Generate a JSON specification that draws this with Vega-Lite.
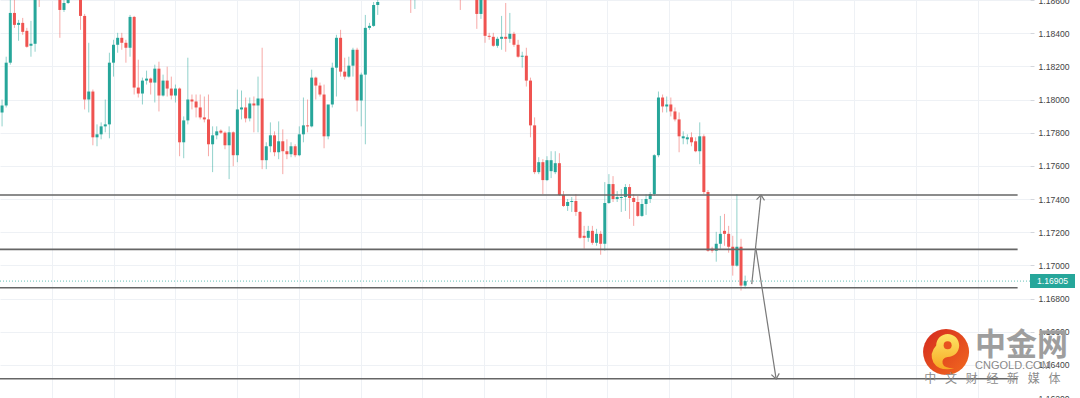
{
"$schema": "https://vega.github.io/schema/vega-lite/v6.json",
"width": 1030, "height": 398,
"autosize": {"type": "none"},
"padding": {"left": 0, "top": 0, "right": 50, "bottom": 0},
"background": "white",
"config": {"view": {"stroke": null}, "font": "Liberation Sans", "axis": {"labelOverlap": false, "labelSeparation": 0}},
"datasets": {
"candles": [
{"i":0,"o":1.17922,"h":1.18,"l":1.17838,"c":1.17964},
{"i":1,"o":1.17964,"h":1.18258,"l":1.17952,"c":1.18222},
{"i":2,"o":1.18222,"h":1.1863,"l":1.1821,"c":1.18522},
{"i":3,"o":1.18522,"h":1.18612,"l":1.18432,"c":1.1845},
{"i":4,"o":1.1845,"h":1.1848,"l":1.18354,"c":1.18462},
{"i":5,"o":1.18462,"h":1.18492,"l":1.1839,"c":1.18408},
{"i":6,"o":1.18414,"h":1.18432,"l":1.18312,"c":1.18318},
{"i":7,"o":1.18324,"h":1.18474,"l":1.18258,"c":1.18336},
{"i":8,"o":1.18336,"h":1.1866,"l":1.18288,"c":1.1863},
{"i":9,"o":1.1866,"h":1.1869,"l":1.18558,"c":1.18612},
{"i":10,"o":1.18612,"h":1.1872,"l":1.1861,"c":1.1868},
{"i":11,"o":1.1868,"h":1.1874,"l":1.1862,"c":1.1864},
{"i":12,"o":1.1864,"h":1.1875,"l":1.1862,"c":1.187},
{"i":13,"o":1.187,"h":1.1873,"l":1.1861,"c":1.1862},
{"i":14,"o":1.18618,"h":1.18636,"l":1.18372,"c":1.1854},
{"i":15,"o":1.1854,"h":1.18612,"l":1.18528,"c":1.18582},
{"i":16,"o":1.18582,"h":1.18648,"l":1.18576,"c":1.18618},
{"i":17,"o":1.18618,"h":1.1869,"l":1.1861,"c":1.1866},
{"i":18,"o":1.1866,"h":1.1868,"l":1.1861,"c":1.1863},
{"i":19,"o":1.1863,"h":1.18648,"l":1.1842,"c":1.18504},
{"i":20,"o":1.18504,"h":1.18516,"l":1.1794,"c":1.18},
{"i":21,"o":1.18,"h":1.18342,"l":1.17922,"c":1.18048},
{"i":22,"o":1.18048,"h":1.1806,"l":1.17724,"c":1.17772},
{"i":23,"o":1.17772,"h":1.1785,"l":1.17718,"c":1.1779},
{"i":24,"o":1.1779,"h":1.17862,"l":1.1776,"c":1.17838},
{"i":25,"o":1.17838,"h":1.18,"l":1.17802,"c":1.1785},
{"i":26,"o":1.1785,"h":1.18282,"l":1.17766,"c":1.18222},
{"i":27,"o":1.18222,"h":1.1836,"l":1.18138,"c":1.1833},
{"i":28,"o":1.1833,"h":1.18402,"l":1.18282,"c":1.18372},
{"i":29,"o":1.18372,"h":1.18402,"l":1.183,"c":1.18342},
{"i":30,"o":1.18342,"h":1.1836,"l":1.18222,"c":1.18312},
{"i":31,"o":1.18312,"h":1.1851,"l":1.18258,"c":1.18498},
{"i":32,"o":1.18498,"h":1.18504,"l":1.1803,"c":1.18072},
{"i":33,"o":1.18072,"h":1.1824,"l":1.18012,"c":1.18036},
{"i":34,"o":1.18036,"h":1.18132,"l":1.1797,"c":1.18114},
{"i":35,"o":1.18114,"h":1.18174,"l":1.1809,"c":1.18126},
{"i":36,"o":1.18126,"h":1.18132,"l":1.1803,"c":1.18102},
{"i":37,"o":1.18102,"h":1.1821,"l":1.17982,"c":1.18186},
{"i":38,"o":1.18186,"h":1.18228,"l":1.17928,"c":1.18024},
{"i":39,"o":1.18024,"h":1.1815,"l":1.18018,"c":1.18114},
{"i":40,"o":1.18114,"h":1.18198,"l":1.18018,"c":1.18066},
{"i":41,"o":1.18066,"h":1.18138,"l":1.18,"c":1.18024},
{"i":42,"o":1.18024,"h":1.1809,"l":1.17982,"c":1.18066},
{"i":43,"o":1.18066,"h":1.18072,"l":1.17658,"c":1.17742},
{"i":44,"o":1.17742,"h":1.17898,"l":1.17646,"c":1.17874},
{"i":45,"o":1.17874,"h":1.18252,"l":1.1785,"c":1.18},
{"i":46,"o":1.18,"h":1.1803,"l":1.1794,"c":1.17988},
{"i":47,"o":1.17988,"h":1.1803,"l":1.17892,"c":1.17952},
{"i":48,"o":1.17952,"h":1.1803,"l":1.1788,"c":1.17892},
{"i":49,"o":1.17892,"h":1.18018,"l":1.17862,"c":1.1788},
{"i":50,"o":1.1788,"h":1.1803,"l":1.17658,"c":1.1773},
{"i":51,"o":1.1773,"h":1.17838,"l":1.17562,"c":1.17784},
{"i":52,"o":1.17784,"h":1.17838,"l":1.1776,"c":1.17808},
{"i":53,"o":1.17812,"h":1.1782,"l":1.17792,"c":1.178},
{"i":54,"o":1.178,"h":1.17808,"l":1.177,"c":1.17724},
{"i":55,"o":1.17724,"h":1.17838,"l":1.1752,"c":1.17802},
{"i":56,"o":1.17802,"h":1.17808,"l":1.17598,"c":1.17664},
{"i":57,"o":1.17664,"h":1.1806,"l":1.17622,"c":1.1794},
{"i":58,"o":1.1794,"h":1.18054,"l":1.1788,"c":1.17952},
{"i":59,"o":1.17952,"h":1.18012,"l":1.17862,"c":1.17886},
{"i":60,"o":1.17886,"h":1.18012,"l":1.17868,"c":1.17976},
{"i":61,"o":1.17976,"h":1.18018,"l":1.17802,"c":1.17964},
{"i":62,"o":1.17964,"h":1.18138,"l":1.17802,"c":1.18006},
{"i":63,"o":1.18006,"h":1.18312,"l":1.1758,"c":1.17634},
{"i":64,"o":1.17634,"h":1.17742,"l":1.1758,"c":1.17718},
{"i":65,"o":1.17718,"h":1.17862,"l":1.17682,"c":1.17784},
{"i":66,"o":1.17784,"h":1.17808,"l":1.17658,"c":1.17682},
{"i":67,"o":1.17682,"h":1.17868,"l":1.1764,"c":1.17748},
{"i":68,"o":1.17748,"h":1.1782,"l":1.1755,"c":1.17688},
{"i":69,"o":1.17688,"h":1.1776,"l":1.1764,"c":1.1767},
{"i":70,"o":1.1767,"h":1.17742,"l":1.17652,"c":1.17718},
{"i":71,"o":1.17718,"h":1.1773,"l":1.17652,"c":1.17664},
{"i":72,"o":1.17664,"h":1.17838,"l":1.17658,"c":1.1779},
{"i":73,"o":1.1779,"h":1.18012,"l":1.17742,"c":1.17844},
{"i":74,"o":1.17844,"h":1.18,"l":1.17802,"c":1.17838},
{"i":75,"o":1.17838,"h":1.1818,"l":1.17832,"c":1.18132},
{"i":76,"o":1.18132,"h":1.18138,"l":1.18,"c":1.18084},
{"i":77,"o":1.18084,"h":1.18102,"l":1.18018,"c":1.1803},
{"i":78,"o":1.1803,"h":1.1809,"l":1.17706,"c":1.17778},
{"i":79,"o":1.17778,"h":1.1788,"l":1.1776,"c":1.1797},
{"i":80,"o":1.1797,"h":1.18222,"l":1.17952,"c":1.18192},
{"i":81,"o":1.18192,"h":1.1839,"l":1.18018,"c":1.18372},
{"i":82,"o":1.18372,"h":1.1842,"l":1.18138,"c":1.18168},
{"i":83,"o":1.18168,"h":1.18252,"l":1.1812,"c":1.18138},
{"i":84,"o":1.18138,"h":1.18258,"l":1.18132,"c":1.18204},
{"i":85,"o":1.18204,"h":1.18312,"l":1.18138,"c":1.183},
{"i":86,"o":1.183,"h":1.18312,"l":1.17928,"c":1.17994},
{"i":87,"o":1.17994,"h":1.18162,"l":1.17838,"c":1.1815},
{"i":88,"o":1.1815,"h":1.1851,"l":1.1773,"c":1.18432},
{"i":89,"o":1.18432,"h":1.18462,"l":1.1842,"c":1.18444},
{"i":90,"o":1.18444,"h":1.18588,"l":1.18438,"c":1.1857},
{"i":91,"o":1.1857,"h":1.18618,"l":1.1851,"c":1.18588},
{"i":92,"o":1.1861,"h":1.1871,"l":1.18605,"c":1.1868},
{"i":93,"o":1.1868,"h":1.1877,"l":1.1866,"c":1.1874},
{"i":94,"o":1.1874,"h":1.1878,"l":1.1868,"c":1.1871},
{"i":95,"o":1.1871,"h":1.1882,"l":1.1869,"c":1.1879},
{"i":96,"o":1.1879,"h":1.1881,"l":1.1872,"c":1.1875},
{"i":97,"o":1.1875,"h":1.1877,"l":1.1865,"c":1.1869},
{"i":98,"o":1.1869,"h":1.1876,"l":1.1864,"c":1.1873},
{"i":99,"o":1.1873,"h":1.1875,"l":1.18522,"c":1.1864},
{"i":100,"o":1.1864,"h":1.1871,"l":1.18546,"c":1.1868},
{"i":101,"o":1.1868,"h":1.1876,"l":1.1866,"c":1.1873},
{"i":102,"o":1.1873,"h":1.1881,"l":1.1871,"c":1.1878},
{"i":103,"o":1.1878,"h":1.188,"l":1.1872,"c":1.1874},
{"i":104,"o":1.1874,"h":1.1884,"l":1.1873,"c":1.188},
{"i":105,"o":1.188,"h":1.1882,"l":1.1874,"c":1.1876},
{"i":106,"o":1.1876,"h":1.1878,"l":1.187,"c":1.1872},
{"i":107,"o":1.1872,"h":1.1878,"l":1.1869,"c":1.1875},
{"i":108,"o":1.1875,"h":1.1877,"l":1.1867,"c":1.187},
{"i":109,"o":1.187,"h":1.1876,"l":1.1868,"c":1.1873},
{"i":110,"o":1.1873,"h":1.1875,"l":1.1865,"c":1.1868},
{"i":111,"o":1.1868,"h":1.187,"l":1.1854,"c":1.1865},
{"i":112,"o":1.1865,"h":1.1872,"l":1.1863,"c":1.187},
{"i":113,"o":1.187,"h":1.1872,"l":1.1865,"c":1.1867},
{"i":114,"o":1.1867,"h":1.1871,"l":1.1864,"c":1.1869},
{"i":115,"o":1.1866,"h":1.1867,"l":1.18426,"c":1.18516},
{"i":116,"o":1.18516,"h":1.1864,"l":1.18486,"c":1.1862},
{"i":117,"o":1.1862,"h":1.1863,"l":1.18342,"c":1.18384},
{"i":118,"o":1.18384,"h":1.18402,"l":1.1836,"c":1.18378},
{"i":119,"o":1.18378,"h":1.18402,"l":1.18318,"c":1.18324},
{"i":120,"o":1.18324,"h":1.18378,"l":1.18312,"c":1.18366},
{"i":121,"o":1.18366,"h":1.18504,"l":1.183,"c":1.18378},
{"i":122,"o":1.18378,"h":1.18582,"l":1.18288,"c":1.18366},
{"i":123,"o":1.18366,"h":1.18522,"l":1.18342,"c":1.18396},
{"i":124,"o":1.18396,"h":1.18408,"l":1.18318,"c":1.1833},
{"i":125,"o":1.1833,"h":1.1836,"l":1.18252,"c":1.18258},
{"i":126,"o":1.18258,"h":1.18288,"l":1.18192,"c":1.18264},
{"i":127,"o":1.18264,"h":1.18312,"l":1.18078,"c":1.18114},
{"i":128,"o":1.18114,"h":1.18132,"l":1.17772,"c":1.17844},
{"i":129,"o":1.17844,"h":1.17892,"l":1.1755,"c":1.17562},
{"i":130,"o":1.17562,"h":1.17652,"l":1.1755,"c":1.17622},
{"i":131,"o":1.17622,"h":1.1764,"l":1.1743,"c":1.17514},
{"i":132,"o":1.17514,"h":1.17658,"l":1.17508,"c":1.17634},
{"i":133,"o":1.17568,"h":1.17688,"l":1.17526,"c":1.17634},
{"i":134,"o":1.17562,"h":1.17688,"l":1.1755,"c":1.17616},
{"i":135,"o":1.17616,"h":1.17676,"l":1.17418,"c":1.17424},
{"i":136,"o":1.17424,"h":1.17448,"l":1.17352,"c":1.17358},
{"i":137,"o":1.17358,"h":1.174,"l":1.17328,"c":1.17382},
{"i":138,"o":1.17382,"h":1.17412,"l":1.17322,"c":1.17388},
{"i":139,"o":1.17388,"h":1.1743,"l":1.17298,"c":1.17322},
{"i":140,"o":1.17322,"h":1.17328,"l":1.1716,"c":1.17166},
{"i":141,"o":1.17178,"h":1.17238,"l":1.171,"c":1.17166},
{"i":142,"o":1.17166,"h":1.17238,"l":1.17142,"c":1.17208},
{"i":143,"o":1.17208,"h":1.17238,"l":1.17124,"c":1.17136},
{"i":144,"o":1.17136,"h":1.1722,"l":1.17118,"c":1.1719},
{"i":145,"o":1.1719,"h":1.17208,"l":1.17064,"c":1.1713},
{"i":146,"o":1.1713,"h":1.17502,"l":1.17088,"c":1.17376},
{"i":147,"o":1.17376,"h":1.1755,"l":1.1737,"c":1.1749},
{"i":148,"o":1.1749,"h":1.17538,"l":1.17382,"c":1.174},
{"i":149,"o":1.174,"h":1.17448,"l":1.17382,"c":1.17412},
{"i":150,"o":1.17406,"h":1.1746,"l":1.17322,"c":1.17412},
{"i":151,"o":1.17412,"h":1.1749,"l":1.17328,"c":1.17472},
{"i":152,"o":1.17472,"h":1.1749,"l":1.1728,"c":1.17406},
{"i":153,"o":1.17406,"h":1.1743,"l":1.17238,"c":1.17382},
{"i":154,"o":1.17382,"h":1.17418,"l":1.17292,"c":1.17298},
{"i":155,"o":1.17298,"h":1.174,"l":1.17292,"c":1.1737},
{"i":156,"o":1.1737,"h":1.1743,"l":1.17304,"c":1.174},
{"i":157,"o":1.174,"h":1.17442,"l":1.17376,"c":1.1743},
{"i":158,"o":1.1743,"h":1.1767,"l":1.17418,"c":1.17664},
{"i":159,"o":1.17664,"h":1.18048,"l":1.17652,"c":1.18012},
{"i":160,"o":1.18012,"h":1.1803,"l":1.17922,"c":1.17958},
{"i":161,"o":1.17958,"h":1.18018,"l":1.17922,"c":1.1797},
{"i":162,"o":1.1797,"h":1.18012,"l":1.17898,"c":1.17928},
{"i":163,"o":1.17928,"h":1.17952,"l":1.17868,"c":1.1788},
{"i":164,"o":1.1788,"h":1.17922,"l":1.17682,"c":1.17778},
{"i":165,"o":1.17766,"h":1.17808,"l":1.1773,"c":1.17778},
{"i":166,"o":1.1776,"h":1.1779,"l":1.1773,"c":1.17772},
{"i":167,"o":1.17772,"h":1.17802,"l":1.17718,"c":1.17742},
{"i":168,"o":1.17748,"h":1.17772,"l":1.17682,"c":1.17688},
{"i":169,"o":1.17688,"h":1.17862,"l":1.1761,"c":1.17778},
{"i":170,"o":1.17778,"h":1.1779,"l":1.1743,"c":1.17442},
{"i":171,"o":1.17442,"h":1.17454,"l":1.17082,"c":1.17088},
{"i":172,"o":1.171,"h":1.17112,"l":1.17076,"c":1.17088},
{"i":173,"o":1.17088,"h":1.17202,"l":1.17022,"c":1.1713},
{"i":174,"o":1.1713,"h":1.17298,"l":1.171,"c":1.1719},
{"i":175,"o":1.17208,"h":1.1731,"l":1.17118,"c":1.1719},
{"i":176,"o":1.1719,"h":1.17238,"l":1.17076,"c":1.17112},
{"i":177,"o":1.17112,"h":1.17178,"l":1.16938,"c":1.16998},
{"i":178,"o":1.16998,"h":1.1743,"l":1.16992,"c":1.17112},
{"i":179,"o":1.17112,"h":1.1716,"l":1.16848,"c":1.16878},
{"i":180,"o":1.16878,"h":1.16938,"l":1.1686,"c":1.16905}
],
"levels": [{"p":1.17424},{"p":1.17096},{"p":1.16865},{"p":1.16316}],
"arrows": [
{"xa":181.6,"ya":1.16887,"xb":183.85,"yb":1.17424},
{"xa":182.6,"ya":1.17103,"xb":187.5,"yb":1.16315}
]
},
"layer": [
{
"data": {"name": "candles"},
"mark": {"type": "rule", "clip": true, "strokeWidth": 1, "opacity": 0.5},
"encoding": {
"x": {"field": "i", "type": "quantitative",
"scale": {"domain": [-0.5, 249], "nice": false, "zero": false, "padding": 0},
"axis": {"orient": "bottom", "values": [12.1, 27.05, 42, 56.95, 71.9, 86.85, 101.8, 116.75, 131.7, 146.65, 161.6, 176.55, 191.5, 206.45, 221.4, 236.35],
"labels": false, "ticks": false, "domain": false, "title": null, "grid": true, "gridColor": "#eef1f5", "gridWidth": 1}},
"y": {"field": "l", "type": "quantitative",
"scale": {"domain": [1.162, 1.186], "nice": false, "zero": false, "padding": 0},
"axis": {"orient": "right", "tickCount": 12, "format": ".5f", "title": null, "domain": false, "tickSize": 4, "tickColor": "#d3d6dc", "labelPadding": 4, "labelOverlap": false, "labelSeparation": 0,
"labelFontSize": 8.6, "labelColor": "#444444", "labelFont": "Liberation Sans", "grid": true, "gridColor": "#eef1f5", "gridWidth": 1}},
"y2": {"field": "h"},
"color": {"condition": {"test": "datum.c >= datum.o", "value": "#26a69a"}, "value": "#ef5350"}
}
},
{
"data": {"name": "candles"},
"mark": {"type": "bar", "clip": true, "size": 3},
"encoding": {
"x": {"field": "i", "type": "quantitative"},
"y": {"field": "o", "type": "quantitative"},
"y2": {"field": "c"},
"color": {"condition": {"test": "datum.c >= datum.o", "value": "#26a69a"}, "value": "#ef5350"}
}
},
{
"data": {"values": [{"p": 1.16905}]},
"mark": {"type": "rule", "color": "#26a69a", "strokeWidth": 1, "strokeDash": [1, 2], "opacity": 0.7},
"encoding": {"y": {"field": "p", "type": "quantitative"}}
},
{
"data": {"name": "levels"},
"mark": {"type": "rule", "color": "#666666", "strokeWidth": 1.6},
"encoding": {
"y": {"field": "p", "type": "quantitative"},
"x": {"datum": -0.5},
"x2": {"datum": 246}
}
},
{
"data": {"name": "arrows"},
"mark": {"type": "rule", "color": "#7a7a7a", "strokeWidth": 1.2},
"encoding": {
"x": {"field": "xa", "type": "quantitative"},
"y": {"field": "ya", "type": "quantitative"},
"x2": {"field": "xb"},
"y2": {"field": "yb"}
}
},
{
"data": {"values": [{"k": 1}]},
"mark": {"type": "point", "shape": "M-0.8,1L0,0L0.8,1", "size": 100, "angle": 6, "filled": false, "stroke": "#7a7a7a", "strokeWidth": 1.2, "opacity": 1},
"encoding": {"x": {"datum": 183.85}, "y": {"datum": 1.17424}}
},
{
"data": {"values": [{"k": 1}]},
"mark": {"type": "point", "shape": "M-0.8,1L0,0L0.8,1", "size": 100, "angle": 171, "filled": false, "stroke": "#7a7a7a", "strokeWidth": 1.2, "opacity": 1},
"encoding": {"x": {"datum": 187.5}, "y": {"datum": 1.16315}}
},
{
"data": {"values": [{"k": 1}]},
"mark": {"type": "rect", "color": "#26a69a", "opacity": 1},
"encoding": {"x": {"datum": 249.0}, "x2": {"datum": 259.9}, "y": {"datum": 1.16947}, "y2": {"datum": 1.16863}}
},
{
"data": {"values": [{"k": 1}]},
"mark": {"type": "text", "text": "1.16905", "color": "white", "fontSize": 8.6, "font": "Liberation Sans", "align": "center", "baseline": "middle"},
"encoding": {"x": {"datum": 254.45}, "y": {"datum": 1.16905}}
},
{
"data": {"values": [{"k": 1}]},
"mark": {"type": "point", "shape": "circle", "size": 2116, "filled": true, "opacity": 1, "strokeWidth": 0,
"fill": {"gradient": "linear", "x1": 0, "y1": 0, "x2": 1, "y2": 1, "stops": [{"offset": 0, "color": "#d42a1e"}, {"offset": 1, "color": "#f26a1f"}]}},
"encoding": {"x": {"datum": 228.67}, "y": {"datum": 1.16477}}
},
{
"data": {"values": [{"k": 1}]},
"mark": {"type": "point", "shape": "M0.07,-0.79A0.5,0.5 0 0 1 0.57,-0.29A0.5,0.5 0 0 1 0.07,0.21Q-0.2,0.25 -0.15,0.5Q-0.1,0.7 0.35,0.72Q-0.3,0.85 -0.55,0.45Q-0.75,0.05 -0.43,-0.29A0.5,0.5 0 0 1 0.07,-0.79Z",
"size": 2116, "filled": true, "opacity": 1, "strokeWidth": 0,
"fill": {"gradient": "linear", "x1": 0, "y1": 0, "x2": 0, "y2": 1, "stops": [{"offset": 0, "color": "#fde566"}, {"offset": 1, "color": "#f7a823"}]}},
"encoding": {"x": {"datum": 228.67}, "y": {"datum": 1.16477}}
},
{
"data": {"values": [{"k": 1}]},
"mark": {"type": "point", "shape": "circle", "size": 64, "filled": true, "opacity": 1, "strokeWidth": 0, "fill": "#e8521f"},
"encoding": {"x": {"datum": 229.05}, "y": {"datum": 1.16518}}
},
{
"data": {"values": [{"k": 1}]},
"mark": {"type": "text", "text": "中金网", "font": "Noto Sans CJK SC", "fontWeight": "bold", "fontSize": 31, "color": "#9e9e9e", "align": "center", "baseline": "middle"},
"encoding": {"x": {"datum": 246.94}, "y": {"datum": 1.16513}}
},
{
"data": {"values": [{"k": 1}]},
"mark": {"type": "text", "text": "CNGOLD.COM", "font": "Liberation Sans", "fontSize": 11, "color": "#8a8a8a", "align": "left", "baseline": "middle"},
"encoding": {"x": {"datum": 235.68}, "y": {"datum": 1.16392}}
},
{
"data": {"values": [{"k": 1}]},
"mark": {"type": "text", "text": "中\u2002 文\u2002 财\u2002 经\u2002 新\u2002 媒\u2002 体", "font": "Noto Sans CJK SC", "fontSize": 12, "color": "#8c8c8c", "align": "center", "baseline": "middle"},
"encoding": {"x": {"datum": 239.9}, "y": {"datum": 1.16314}}
}
]
}
